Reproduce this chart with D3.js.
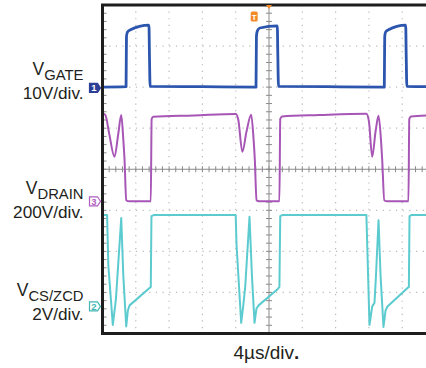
<!DOCTYPE html>
<html><head><meta charset="utf-8">
<script src="https://cdn.jsdelivr.net/npm/d3@7/dist/d3.min.js"></script>
<style>
html,body{margin:0;padding:0;background:#fff;}
svg{display:block;}
text{font-family:"Liberation Sans",Arial,Helvetica,sans-serif;fill:#231f20;}
</style></head>
<body>
<svg id="chart" width="426" height="368"></svg>
<script>
// ---- data (time in µs, voltages in V) ----
const timeSpan = [0, 40];          // 10 div × 4 µs/div
const divCount = 8;
const channelNames = ["GATE", "DRAIN", "CS/ZCD"];
const channelScaleLabels = ["10V/div.", "200V/div.", "2V/div."];
const channelVoltsPerDiv = [10, 200, 2];
const channelZeroDiv = [2.02, 4.78, 7.34];   // reference marker position (div from top)
const timeLabel = "4µs/div";

const gateT = [0, 2.83, 2.88, 3.0, 3.3, 5.58, 5.64, 5.72, 12, 18.44, 18.49, 18.6, 18.9, 21.0, 21.06, 21.14, 27, 33.85, 33.9, 34.0, 34.3, 36.42, 36.48, 36.56, 40];
const gateV = [0.2, 0.3, 12.5, 13.6, 14.1, 15.3, 8, 0.4, 0.3, 0.2, 12.5, 13.9, 14.6, 15.1, 8, 0.4, 0.3, 0.2, 12.5, 13.6, 14.1, 15.3, 8, 0.4, 0.3];

const drainT = [0, 0.35, 0.8, 1.44, 1.9, 2.25, 2.5, 2.65, 2.85, 3.2, 5.8, 5.9, 6.1, 11, 16.0, 16.3, 16.8, 17.3, 17.86, 18.15, 18.3, 18.5, 18.8, 21.25, 21.35, 21.55, 26, 31.7, 32.0, 32.4, 32.8, 33.16, 33.45, 33.6, 33.85, 34.2, 36.75, 36.85, 37.05, 40];
const drainV = [428, 420, 330, 217, 330, 420, 300, 200, 5, 0, 0, 400, 412, 418, 425, 400, 241, 340, 421, 300, 200, 5, 0, 0, 400, 413, 420, 426, 390, 217, 340, 416, 300, 200, 5, 0, 0, 400, 413, 420];

const csT = [0, 0.55, 0.7, 1.24, 1.6, 1.75, 2.25, 2.5, 2.85, 3.05, 3.25, 5.65, 5.8, 5.88, 6.2, 16.0, 16.1, 16.66, 16.9, 17.15, 17.66, 17.95, 18.26, 18.5, 18.75, 21.06, 21.25, 21.35, 21.6, 31.7, 31.8, 32.07, 32.4, 32.67, 32.85, 33.16, 33.4, 33.75, 34.0, 34.23, 36.64, 36.8, 36.88, 37.1, 40];
const csV = [4.45, 4.45, 2.0, -0.9, 0.3, 1.2, 4.3, 1.5, -0.98, -0.2, 0.05, 0.9, 0.95, 4.4, 4.45, 4.45, 3.0, -0.8, 0.0, 1.0, 4.37, 1.5, -0.8, -0.1, 0.05, 0.85, 0.95, 4.4, 4.45, 4.45, 3.0, -0.9, 0.0, 0.17, 1.5, 4.2, 1.5, -1.0, -0.2, 0.0, 0.9, 0.95, 4.4, 4.45, 4.45];

// ---- layout ----
const plot = {left: 102.5, right: 435.5, top: 5, bottom: 333.5};
const colors = {gate: "#2c55ae", drain: "#a756b6", cs: "#5ccbcf", frame: "#1e1e1e", grid: "#b8b8b8", axis: "#8a8a8a", trig: "#f28a28"};

const svg = d3.select("#chart");
const x = d3.scaleLinear().domain(timeSpan).range([plot.left, plot.right]);
const yDiv = d3.scaleLinear().domain([0, divCount]).range([plot.top, plot.bottom]);
const chY = i => v => yDiv(channelZeroDiv[i] - v / channelVoltsPerDiv[i]);

svg.append("defs").append("clipPath").attr("id", "clip")
  .append("rect").attr("x", plot.left).attr("y", plot.top)
  .attr("width", plot.right - plot.left).attr("height", plot.bottom - plot.top);

const g = svg.append("g");
// dotted grid
const vGrid = d3.range(4, 40, 4).filter(t => t !== 20);
g.selectAll(".vg").data(vGrid).join("line")
  .attr("x1", d => x(d)).attr("x2", d => x(d)).attr("y1", plot.top).attr("y2", plot.bottom)
  .attr("stroke", colors.grid).attr("stroke-width", 1.2).attr("stroke-dasharray", "1.2,5.37");
const hGrid = d3.range(1, 8).filter(d => d !== 4);
g.selectAll(".hg").data(hGrid).join("line")
  .attr("x1", plot.left).attr("x2", 426).attr("y1", d => yDiv(d)).attr("y2", d => yDiv(d))
  .attr("stroke", colors.grid).attr("stroke-width", 1.2).attr("stroke-dasharray", "1.2,5.47");

// center axes with minor ticks
const cy = yDiv(4), cx = x(20);
g.append("line").attr("x1", plot.left).attr("x2", 426).attr("y1", cy).attr("y2", cy).attr("stroke", colors.axis).attr("stroke-width", 1);
g.append("line").attr("x1", cx).attr("x2", cx).attr("y1", plot.top).attr("y2", plot.bottom).attr("stroke", colors.axis).attr("stroke-width", 1);
const hTicks = d3.range(0, 40.01, 0.8);
g.selectAll(".ht").data(hTicks).join("line")
  .attr("x1", d => x(d)).attr("x2", d => x(d)).attr("y1", cy - 3).attr("y2", cy + 3)
  .attr("stroke", colors.axis).attr("stroke-width", 1);
const vTicks = d3.range(0, 8.01, 0.2);
g.selectAll(".vt").data(vTicks).join("line")
  .attr("x1", cx - 3).attr("x2", cx + 3).attr("y1", d => yDiv(d)).attr("y2", d => yDiv(d))
  .attr("stroke", colors.axis).attr("stroke-width", 1);
// left edge minor ticks
g.selectAll(".lt").data(vTicks).join("line")
  .attr("x1", plot.left).attr("x2", plot.left + 4).attr("y1", d => yDiv(d)).attr("y2", d => yDiv(d))
  .attr("stroke", colors.axis).attr("stroke-width", 1);

// traces
const traces = svg.append("g").attr("clip-path", "url(#clip)");
function trace(T, V, idx, color, w, curve) {
  const yy = chY(idx);
  const line = d3.line().x(d => x(d[0])).y(d => yy(d[1])).curve(curve);
  traces.append("path").datum(d3.zip(T, V)).attr("d", line)
    .attr("fill", "none").attr("stroke", color).attr("stroke-width", w)
    .attr("stroke-linejoin", "round").attr("stroke-linecap", "round");
}
trace(csT, csV, 2, colors.cs, 2, d3.curveLinear);
trace(drainT, drainV, 1, colors.drain, 2, d3.curveMonotoneX);
trace(gateT, gateV, 0, colors.gate, 2.8, d3.curveMonotoneX);

// frame
svg.append("path").attr("d", `M426,${plot.top}H${plot.left}V${plot.bottom}H426`)
  .attr("fill", "none").attr("stroke", colors.frame).attr("stroke-width", 3);

// trigger markers
const trig = svg.append("g");
trig.append("rect").attr("x", x(17.8)).attr("y", 11.5).attr("width", 7).attr("height", 10).attr("rx", 1.5).attr("fill", colors.trig);
trig.append("text").attr("x", x(17.8) + 3.5).attr("y", 19.5).attr("text-anchor", "middle")
  .style("font-size", "8px").style("font-weight", "bold").style("fill", "#fff").text("T");
trig.append("path").attr("d", `M${cx - 3},${plot.top}L${cx + 3},${plot.top}L${cx},${plot.top + 4}Z`).attr("fill", colors.trig);

// channel markers
const markerColors = [colors.gate, "#b05fc0", "#45b5b2"];
const markerNums = ["1", "3", "2"];
markerNums.forEach((n, i) => {
  const my = yDiv(channelZeroDiv[i]);
  const filled = i === 0;
  const gm = svg.append("g");
  gm.append("path")
    .attr("d", `M89.5,${my - 4.5}H97.5L100.5,${my}L97.5,${my + 4.5}H89.5Z`)
    .attr("fill", filled ? "#2d3f96" : "#fff")
    .attr("stroke", filled ? "#2d3f96" : markerColors[i]).attr("stroke-width", 1.2);
  gm.append("text").attr("x", 94).attr("y", my + 3.5).attr("text-anchor", "middle")
    .style("font-size", "9.5px").style("font-weight", "bold")
    .style("fill", filled ? "#fff" : markerColors[i]).text(n);
});

// channel labels
const labelBase = [[75, 99], [193.5, 217.5], [296, 319.5]];
channelNames.forEach((name, i) => {
  const t = svg.append("text").attr("x", 83.5).attr("y", labelBase[i][0]).attr("text-anchor", "end")
    .style("font-size", "17.5px");
  t.append("tspan").text("V");
  t.append("tspan").attr("dy", 5).style("font-size", "14.8px").text(name);
  svg.append("text").attr("x", 83.5).attr("y", labelBase[i][1]).attr("text-anchor", "end")
    .style("font-size", "17.2px").text(channelScaleLabels[i]);
});

// time base label
const tl = svg.append("text").attr("x", 233.5).attr("y", 358.5).style("font-size", "19px");
tl.append("tspan").text(timeLabel);
tl.append("tspan").style("font-weight", "bold").text(".");
</script>
</body></html>
